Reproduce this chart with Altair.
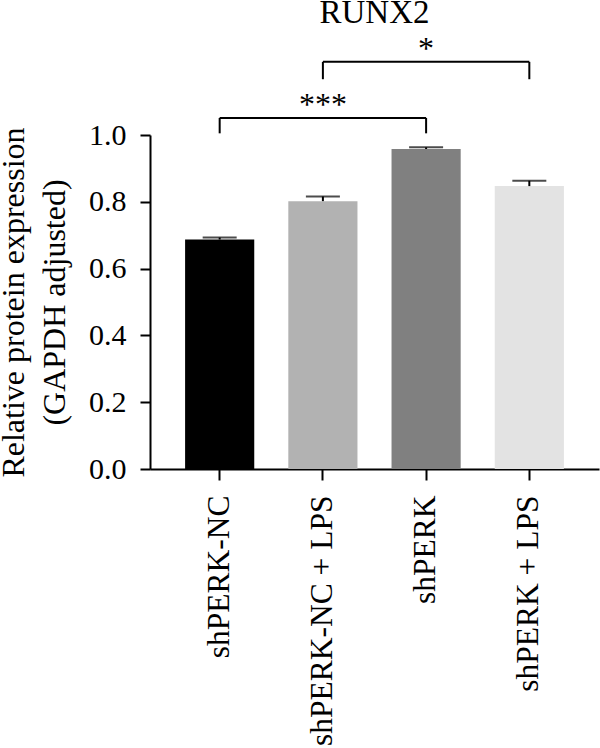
import altair as alt
import pandas as pd

# Bar groups, mean values and error (upper half only) for RUNX2 expression
groups = ["shPERK-NC", "shPERK-NC + LPS", "shPERK", "shPERK + LPS"]
means = [0.687, 0.802, 0.958, 0.847]
errors = [0.006, 0.014, 0.005, 0.016]
bar_colors = ["#000000", "#b2b2b2", "#808080", "#e3e3e3"]

# Significance brackets
sig_left = ["shPERK-NC", "shPERK-NC + LPS"]
sig_right = ["shPERK", "shPERK + LPS"]
sig_mid = ["shPERK-NC + LPS", "shPERK"]
sig_level = [1.051, 1.219]
sig_drop = [1.005, 1.167]
sig_label = ["***", "*"]

FONT = "Liberation Serif"
W, H = 449, 334

bars_df = pd.DataFrame({
    "group": groups,
    "mean": means,
    "upper": [m + e for m, e in zip(means, errors)],
})
sig_df = pd.DataFrame({
    "left": sig_left, "right": sig_right, "mid": sig_mid,
    "level": sig_level, "drop": sig_drop, "label": sig_label,
})
legs_df = pd.DataFrame({
    "end": sig_left + sig_right,
    "level": sig_level + sig_level,
    "drop": sig_drop + sig_drop,
})

x_scale = alt.Scale(domain=groups, paddingInner=0.33, paddingOuter=0.34)
y_scale = alt.Scale(domain=[0, 1], nice=False)

x_axis = alt.Axis(
    title=None, labelAngle=270, labelAlign="right", labelBaseline="middle",
    labelFontSize=31.5, labelPadding=15, tickSize=11, labelLimit=0,
)
y_axis = alt.Axis(
    title=["Relative protein expression", "(GAPDH adjusted)"],
    values=[0, 0.2, 0.4, 0.6, 0.8, 1.0], format=".1f", grid=False,
    labelFontSize=30, labelPadding=14, tickSize=10,
    titleFontSize=32, titleFontWeight="normal", titleAngle=270,
    titleAlign="center", titleBaseline="alphabetic",
    titleX=-127, titleY=H / 2, titleLineHeight=41,
)

bars = alt.Chart(bars_df).mark_bar().encode(
    x=alt.X("group:N", scale=x_scale, axis=x_axis, sort=groups),
    y=alt.Y("mean:Q", scale=y_scale, axis=y_axis),
    color=alt.Color("group:N", scale=alt.Scale(domain=groups, range=bar_colors), legend=None),
)

err_rule = alt.Chart(bars_df).mark_rule(color="black", strokeWidth=2).encode(
    x=alt.X("group:N", scale=x_scale),
    y=alt.Y("mean:Q", scale=y_scale),
    y2="upper:Q",
)
err_cap = alt.Chart(bars_df).mark_tick(color="black", size=34, thickness=2).encode(
    x=alt.X("group:N", scale=x_scale),
    y=alt.Y("upper:Q", scale=y_scale),
)

bracket_top = alt.Chart(sig_df).mark_rule(color="black", strokeWidth=2).encode(
    x=alt.X("left:N", scale=x_scale),
    x2="right:N",
    y=alt.Y("level:Q", scale=y_scale),
)
bracket_legs = alt.Chart(legs_df).mark_rule(color="black", strokeWidth=2).encode(
    x=alt.X("end:N", scale=x_scale),
    y=alt.Y("level:Q", scale=y_scale),
    y2="drop:Q",
)
stars = alt.Chart(sig_df).mark_text(
    font=FONT, fontSize=32, baseline="alphabetic", align="center", dy=-3, color="black"
).encode(
    x=alt.X("mid:N", scale=x_scale),
    y=alt.Y("level:Q", scale=y_scale),
    text="label:N",
)

title = alt.Chart(pd.DataFrame({"t": ["RUNX2"]})).mark_text(
    font=FONT, fontSize=33, baseline="alphabetic", align="center", color="black"
).encode(
    x=alt.value(W / 2),
    y=alt.value(-112),
    text="t:N",
)

chart = alt.layer(
    bars, err_rule, err_cap, bracket_top, bracket_legs, stars, title
).properties(
    width=W, height=H,
    autosize=alt.AutoSizeParams(type="none"),
    padding={"left": 150, "top": 135, "right": 1, "bottom": 279},
).configure_view(
    stroke=None
).configure_axis(
    domainColor="black", domainWidth=2, tickColor="black", tickWidth=2,
    labelColor="black", titleColor="black", labelFont=FONT, titleFont=FONT,
)

chart.save("out.html", embed_options={"renderer": "svg", "actions": False})
